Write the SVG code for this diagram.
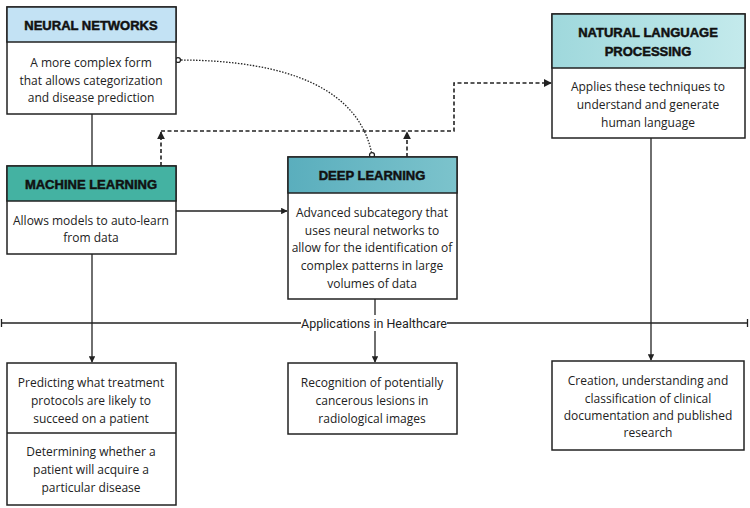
<svg xmlns="http://www.w3.org/2000/svg" width="750" height="508" viewBox="0 0 750 508">
<defs>
<style>
.box{fill:#fff;stroke:#222;stroke-width:1.5}
.hd{font-family:"Liberation Sans",Arial,sans-serif;font-weight:900;font-size:13px;fill:#111;text-anchor:middle;stroke:#111;stroke-width:0.5}
.tx{font-family:"Open Sans","Liberation Sans",sans-serif;font-size:12px;fill:#222;text-anchor:middle}
.ln{fill:none;stroke:#222;stroke-width:1.3}
.dash{fill:none;stroke:#222;stroke-width:1.6;stroke-dasharray:4 2.5}
.dot{fill:none;stroke:#222;stroke-width:1.3;stroke-dasharray:1.5 1.5}
</style>
<marker id="ah" viewBox="0 0 10 10" refX="9" refY="5" markerWidth="5" markerHeight="5" orient="auto"><path d="M0,0 L10,5 L0,10 z" fill="#222"/></marker>
<marker id="oc" viewBox="0 0 10 10" refX="5" refY="5" markerWidth="6" markerHeight="6"><circle cx="5" cy="5" r="3.2" fill="#fff" stroke="#222" stroke-width="1.6"/></marker>
<linearGradient id="nlpg" x1="0" y1="0" x2="1" y2="0"><stop offset="0" stop-color="#9fd8dc"/><stop offset="1" stop-color="#c4eaec"/></linearGradient>
<linearGradient id="dlg" x1="0" y1="0" x2="1" y2="0"><stop offset="0" stop-color="#5aaebd"/><stop offset="1" stop-color="#7cc3cc"/></linearGradient>
</defs>
<rect width="750" height="508" fill="#fff"/>
<g id="connectors">
<line class="ln" x1="92" y1="114" x2="92" y2="166"/>
<line class="ln" x1="176" y1="211" x2="287" y2="211" marker-end="url(#ah)"/>
<line class="ln" x1="92" y1="254" x2="92" y2="362" marker-end="url(#ah)"/>
<line class="ln" x1="375" y1="299" x2="375" y2="362" marker-end="url(#ah)"/>
<line class="ln" x1="651" y1="138" x2="651" y2="360" marker-end="url(#ah)"/>
<path class="dash" d="M161,166 V132" marker-end="url(#ah)"/>
<path class="dash" d="M407,157 V132" marker-end="url(#ah)"/>
<path class="dash" d="M161,131 H454 V83 H551" marker-end="url(#ah)"/>
<path class="dot" d="M178,60 C290,60 360,90 372,155" marker-start="url(#oc)" marker-end="url(#oc)"/>
<g id="timeline">
<line class="ln" x1="1" y1="323" x2="748" y2="323"/>
<line class="ln" x1="1.5" y1="319" x2="1.5" y2="327"/>
<line class="ln" x1="747.5" y1="319" x2="747.5" y2="327"/>
<rect x="301" y="315" width="146" height="16" fill="#fff"/>
<text class="tx" x="374" y="327.5" style="font-family:'Roboto','Liberation Sans',sans-serif;font-size:12.5px">Applications in Healthcare</text>
</g>
</g>
<g id="neural-networks">
<rect class="box" x="7" y="7" width="169" height="107"/>
<rect x="7" y="7" width="169" height="35" fill="#c3e2f4" stroke="#222" stroke-width="1.5"/>
<text class="hd" x="91" y="30">NEURAL NETWORKS</text>
<text class="tx" x="91" y="66.5">A more complex form</text>
<text class="tx" x="91" y="84.5">that allows categorization</text>
<text class="tx" x="91" y="101.5">and disease prediction</text>
</g>
<g id="machine-learning">
<rect class="box" x="7" y="166" width="169" height="88"/>
<rect x="7" y="166" width="169" height="35" fill="#44b2a2" stroke="#222" stroke-width="1.5"/>
<text class="hd" x="91" y="189">MACHINE LEARNING</text>
<text class="tx" x="91" y="224.5">Allows models to auto-learn</text>
<text class="tx" x="91" y="241.5">from data</text>
</g>
<g id="deep-learning">
<rect class="box" x="288" y="157" width="169" height="142"/>
<rect x="288" y="157" width="169" height="36" fill="url(#dlg)" stroke="#222" stroke-width="1.5"/>
<text class="hd" x="372" y="180">DEEP LEARNING</text>
<text class="tx" x="372" y="216.5">Advanced subcategory that</text>
<text class="tx" x="372" y="234.5">uses neural networks to</text>
<text class="tx" x="372" y="252">allow for the identification of</text>
<text class="tx" x="372" y="270">complex patterns in large</text>
<text class="tx" x="372" y="287.5">volumes of data</text>
</g>
<g id="nlp">
<rect class="box" x="552" y="14" width="193" height="124"/>
<rect x="552" y="14" width="193" height="54" fill="url(#nlpg)" stroke="#222" stroke-width="1.5"/>
<text class="hd" x="648" y="36.5">NATURAL LANGUAGE</text>
<text class="hd" x="648" y="55.5">PROCESSING</text>
<text class="tx" x="648" y="90.5">Applies these techniques to</text>
<text class="tx" x="648" y="108.5">understand and generate</text>
<text class="tx" x="648" y="126.5">human language</text>
</g>
<g id="ml-apps">
<rect class="box" x="7" y="363" width="169" height="142"/>
<line class="ln" x1="7" y1="433" x2="176" y2="433" style="stroke-width:1.5"/>
<text class="tx" x="91" y="386.5">Predicting what treatment</text>
<text class="tx" x="91" y="404.5">protocols are likely to</text>
<text class="tx" x="91" y="422.5">succeed on a patient</text>
<text class="tx" x="91" y="455.5">Determining whether a</text>
<text class="tx" x="91" y="473.5">patient will acquire a</text>
<text class="tx" x="91" y="491.5">particular disease</text>
</g>
<g id="dl-apps">
<rect class="box" x="288" y="363" width="169" height="71"/>
<text class="tx" x="372" y="386.5">Recognition of potentially</text>
<text class="tx" x="372" y="404.5">cancerous lesions in</text>
<text class="tx" x="372" y="422.5">radiological images</text>
</g>
<g id="nlp-apps">
<rect class="box" x="552" y="361" width="192" height="89"/>
<text class="tx" x="648" y="384.5">Creation, understanding and</text>
<text class="tx" x="648" y="402.5">classification of clinical</text>
<text class="tx" x="648" y="419.5">documentation and published</text>
<text class="tx" x="648" y="436.5">research</text>
</g>
</svg>
